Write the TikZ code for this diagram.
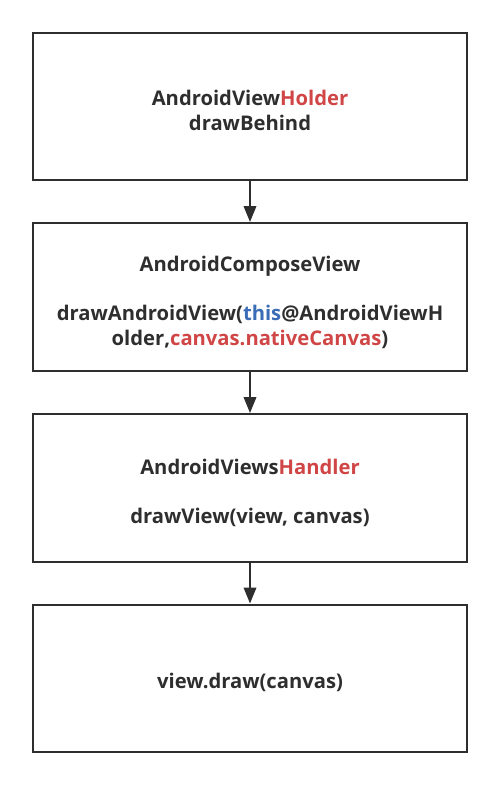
\documentclass[tikz,border=0pt]{standalone}
\usepackage{fontspec}
\setmainfont{Open Sans}
\usepackage{tikz}
\usetikzlibrary{arrows.meta,positioning}

\definecolor{ink}{HTML}{2E2E2E}
\definecolor{hlred}{HTML}{D04545}
\definecolor{hlblue}{HTML}{3A6DB5}

\begin{document}
\begin{tikzpicture}[x=0.02cm,y=-0.02cm,>={Triangle[length=9pt,width=7pt]},
  stage/.style={draw=ink,line width=1.4pt,minimum width=8.68cm,minimum height=2.95cm,inner sep=0pt},
  txt/.style={font=\bfseries\fontsize{11.5}{14.5}\selectfont,text=ink,align=center,inner sep=0pt},
  flow/.style={->,draw=ink,line width=1.3pt}]
 \useasboundingbox (0,0) rectangle (500,786);
 \node[stage] (holder) at (250,106.5) {};
 \node[stage] (compose) at (250,297) {};
 \node[stage] (handler) at (250,488) {};
 \node[stage] (canvas) at (250,678.5) {};
 % labels inside the boxes
 \node[txt] (holderT) at (250,98) {AndroidView\textcolor{hlred}{Holder}};
 \node[txt] (holderD) at (250,123) {drawBehind};
 \node[txt] (composeT) at (250,266) {AndroidComposeView};
 \node[txt] (composeD) at (250,327) {drawAndroidView(\textcolor{hlblue}{this}@AndroidViewH\\{}older,\textcolor{hlred}{canvas.nativeCanvas})};
 \node[txt] (handlerT) at (250,467) {AndroidViews\textcolor{hlred}{Handler}};
 \node[txt] (handlerD) at (250,517) {drawView(view, canvas)};
 \node[txt] (canvasD) at (250,682) {view.draw(canvas)};
 \draw[flow] (holder) -- (compose);
 \draw[flow] (compose) -- (handler);
 \draw[flow] (handler) -- (canvas);
\end{tikzpicture}
\end{document}
